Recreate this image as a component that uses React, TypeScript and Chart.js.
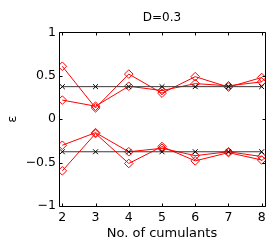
import React, { useEffect, useRef } from "react";
import { Chart, registerables } from "chart.js";

Chart.register(...registerables);

const titleText = "D=0.3";
const xLabel = "No. of cumulants";
const yLabel = "ε";
const cumulants = [2, 3, 4, 5, 6, 7, 8];
const yTicks = [-1, -0.5, 0, 0.5, 1];

const exactUpper = [0.375, 0.375, 0.375, 0.375, 0.375, 0.375, 0.375];
const exactLower = [-0.375, -0.375, -0.375, -0.375, -0.375, -0.375, -0.375];
const upperA = [0.61, 0.13, 0.52, 0.3, 0.49, 0.37, 0.48];
const upperB = [0.22, 0.15, 0.38, 0.33, 0.41, 0.385, 0.43];
const lowerC = [-0.3, -0.155, -0.375, -0.335, -0.42, -0.375, -0.43];
const lowerD = [-0.595, -0.165, -0.51, -0.315, -0.48, -0.385, -0.47];

const FONT = "'DejaVu Sans', 'Liberation Sans', Arial, sans-serif";

function pts(vals: number[]) {
  return cumulants.map((x, i) => ({ x, y: vals[i] }));
}

const frameAndTicks = {
  id: "frameAndTicks",
  afterDraw(chart: any) {
    const { ctx, chartArea } = chart;
    const { left, right, top, bottom } = chartArea;
    const xs = chart.scales.x;
    const ys = chart.scales.y;
    const L = 3;
    ctx.save();
    ctx.strokeStyle = "#000";
    ctx.lineWidth = 1;
    ctx.beginPath();
    const l = Math.round(left) + 0.5;
    const r = Math.round(right) + 0.5;
    const t = Math.round(top) + 0.5;
    const b = Math.round(bottom) + 0.5;
    ctx.rect(l, t, r - l, b - t);
    for (const v of cumulants) {
      const px = Math.round(xs.getPixelForValue(v)) + 0.5;
      ctx.moveTo(px, t);
      ctx.lineTo(px, t + L);
      ctx.moveTo(px, b);
      ctx.lineTo(px, b - L);
    }
    for (const v of yTicks) {
      const py = Math.round(ys.getPixelForValue(v)) + 0.5;
      ctx.moveTo(l, py);
      ctx.lineTo(l + L, py);
      ctx.moveTo(r, py);
      ctx.lineTo(r - L, py);
    }
    ctx.stroke();
    ctx.restore();
  },
};

export default function App() {
  const ref = useRef<HTMLCanvasElement>(null);
  useEffect(() => {
    document.body.style.margin = "0";
    const red = "rgb(255,0,0)";
    const black = "#3a3a3a";
    const redDs = (data: number[]) => ({
      data: pts(data),
      borderColor: red,
      borderWidth: 1,
      pointStyle: "rectRot",
      pointRadius: 4.3,
      pointBorderColor: red,
      pointBackgroundColor: "rgba(0,0,0,0)",
      pointBorderWidth: 1,
    });
    const blackDs = (data: number[]) => ({
      data: pts(data),
      borderColor: black,
      borderWidth: 1,
      pointStyle: "crossRot",
      pointRadius: 3.5,
      pointBorderColor: "#000",
      pointBorderWidth: 1,
    });
    const chart = new Chart(ref.current!, {
      type: "line",
      data: {
        datasets: [
          blackDs(exactUpper),
          blackDs(exactLower),
          redDs(upperA),
          redDs(upperB),
          redDs(lowerC),
          redDs(lowerD),
        ] as any,
      },
      options: {
        animation: false,
        responsive: false,
        layout: { padding: { left: 0, right: 8, top: 0, bottom: 0 } },
        plugins: {
          legend: { display: false },
          tooltip: { enabled: false },
          title: {
            display: true,
            text: titleText,
            fullSize: false,
            color: "#000",
            font: { family: FONT, size: 12, weight: "normal" },
            padding: { top: 11, bottom: 7 },
          } as any,
        },
        scales: {
          x: {
            type: "linear",
            min: 1.9,
            max: 8.1,
            afterBuildTicks: (s: any) => {
              s.ticks = cumulants.map((v) => ({ value: v }));
            },
            afterFit: (s: any) => {
              s.height = 39;
            },
            grid: { display: false, drawTicks: false },
            border: { display: false },
            ticks: {
              color: "#000",
              padding: 4,
              font: { family: FONT, size: 12.5 },
              maxRotation: 0,
              autoSkip: false,
            },
            title: {
              display: true,
              text: xLabel,
              color: "#000",
              font: { family: FONT, size: 13 },
              padding: { top: 0, bottom: 4 },
            },
          },
          y: {
            type: "linear",
            min: -1,
            max: 1,
            afterBuildTicks: (s: any) => {
              s.ticks = yTicks.map((v) => ({ value: v }));
            },
            afterFit: (s: any) => {
              s.width = 59;
            },
            grid: { display: false, drawTicks: false },
            border: { display: false },
            ticks: {
              color: "#000",
              padding: 3,
              font: { family: FONT, size: 12.5 },
              callback: (v: any) => String(v).replace("-", "\u2212"),
            },
            title: {
              display: true,
              text: yLabel,
              color: "#000",
              font: { family: FONT, size: 13 },
              padding: { top: 5, bottom: 0 },
            },
          },
        },
      },
      plugins: [frameAndTicks],
    });
    return () => chart.destroy();
  }, []);
  return (
    <div style={{ width: 273, height: 245 }}>
      <canvas ref={ref} width={273} height={245} style={{ display: "block" }} />
    </div>
  );
}
